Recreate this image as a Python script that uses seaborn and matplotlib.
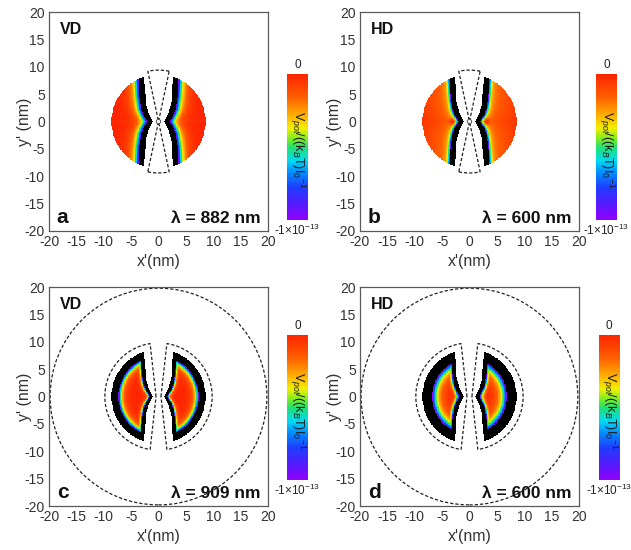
import numpy as np
import matplotlib
matplotlib.use("Agg")
import matplotlib.pyplot as plt
import seaborn as sns
from matplotlib.colors import LinearSegmentedColormap
from matplotlib.patches import Circle, Polygon, Wedge
from matplotlib.transforms import Affine2D

# ---- panel annotations -------------------------------------------------
panel_tags = ["a", "b", "c", "d"]
dimer_modes = ["VD", "HD", "VD", "HD"]
wavelengths_nm = [882, 600, 909, 600]
axis_ticks = [-20, -15, -10, -5, 0, 5, 10, 15, 20]
cbar_top_text = "0"
cbar_bottom_text = "-1×10$^{-13}$"
cbar_title = r"V$_{pot}$/((k$_B$T)I$_0$$^{-1}$"
v_min, v_max = -1e-13, 0.0

# ---- geometry (nm) -----------------------------------------------------
disk_radius = 8.6          # extent of the mapped potential
gap_tip = 0.95             # half width of the central gap at y = 0
gap_shoulder = 1.2         # extra half width reached away from the centre
gap_shoulder_len = 2.0
gap_slope = 0.06
bowtie_radius = 9.4        # dashed bow-tie sectors (top row)
bowtie_half_angle = 12.0
hub_radius = 0.4
piece_radius = 9.8         # dashed outlines of the two halves (bottom row)
piece_apex = 0.45
piece_half_angle = 9.0
shell_radius = 19.8        # outer dashed circle (bottom row)

# ---- potential-map parameters per panel --------------------------------
saturation_depth = [1.05, 1.0, 1.25, 1.75]   # distance at which V reaches v_min
decay_length = [0.9, 0.35, 0.6, 1.0]         # fall-off of |V| away from the walls
gap_weight = [1.0, 1.0, 2.0, 2.5]            # relative weight of the gap wall

jet_stops = [0.0, 0.1, 0.22, 0.33, 0.41, 0.5, 0.56, 0.63, 0.72, 0.84, 1.0]
jet_colors = ["#9400ff", "#5a18ff", "#1f3cff", "#0090ff", "#00dcf0", "#22e070",
              "#80ee20", "#f2ef00", "#ffae00", "#ff6000", "#ff2400"]

sns.set_style("white")
plt.rcParams["font.family"] = ["Liberation Sans", "DejaVu Sans"]
plt.rcParams["mathtext.fontset"] = "custom"
plt.rcParams["mathtext.rm"] = "Liberation Sans"
plt.rcParams["mathtext.it"] = "Liberation Sans:italic"

cmap = LinearSegmentedColormap.from_list("pot", list(zip(jet_stops, jet_colors)), N=512)
cmap.set_under("black")
cmap.set_bad("white")

N = 320
centers = -20 + (np.arange(N) + 0.5) * 40.0 / N
X, Y = np.meshgrid(centers, centers[::-1])
R = np.hypot(X, Y)
gap_edge = (gap_tip + gap_shoulder * np.tanh(np.abs(Y) / gap_shoulder_len)
            + gap_slope * np.abs(Y))
d_gap = np.abs(X) - gap_edge
d_arc = disk_radius - R
inside = (d_gap >= 0) & (d_arc >= 0)


def depth(i):
    w, s, k = saturation_depth[i], decay_length[i], gap_weight[i]
    ax_ = np.abs(X)
    if i == 0:
        u = np.exp(-(d_gap - w) / s)
        u += 0.15 * np.exp(-np.abs(Y) / 0.25) * np.exp(-(ax_ - 1.0) / 3.5)
    elif i == 1:
        t = d_gap - w
        u = 0.75 * np.exp(-t / s) + 0.25 * np.exp(-t / 4.0)
        u -= 0.2 * np.exp(-((ax_ - 3.0) ** 2 + Y ** 2) / 0.35)
    elif i == 2:
        dist = np.minimum(d_arc, k * d_gap)
        u = np.exp(-(dist - w) / s)
    else:
        dist = np.minimum(d_arc, k * d_gap)
        u = np.exp(-(dist - w) / s)
        u += 0.6 * np.exp(-(((ax_ - 1.3) / 1.0) ** 2 + (Y / 1.2) ** 2))
    return u


ax_boxes = [[0.0777, 0.580, 0.347, 0.398], [0.5705, 0.580, 0.347, 0.398],
            [0.0777, 0.080, 0.347, 0.398], [0.5705, 0.080, 0.347, 0.398]]
cax_boxes = [[0.455, 0.600, 0.033, 0.265], [0.9445, 0.600, 0.033, 0.265],
             [0.455, 0.127, 0.033, 0.264], [0.949, 0.127, 0.033, 0.264]]

fig = plt.figure(figsize=(6.31, 5.5), dpi=100)
dash = (0, (2.6, 1.6))

for i in range(4):
    ax = fig.add_axes(ax_boxes[i])
    cax = fig.add_axes(cax_boxes[i])
    field = -depth(i) * 1e-13
    field = np.where(inside, field, np.nan)
    sns.heatmap(field, ax=ax, mask=~inside, cmap=cmap, vmin=v_min, vmax=v_max,
                cbar=True, cbar_ax=cax, xticklabels=False, yticklabels=False,
                rasterized=True)

    ax.set_xlim(0, N)
    ax.set_ylim(N, 0)
    ax.set_xticks([(t + 20) * N / 40 for t in axis_ticks])
    ax.set_xticklabels([str(t) for t in axis_ticks])
    ax.set_yticks([(20 - t) * N / 40 for t in axis_ticks])
    ax.set_yticklabels([str(t) for t in axis_ticks], rotation=0)
    ax.tick_params(length=0, labelsize=10, colors="#333333", pad=3)
    for sp in ax.spines.values():
        sp.set_visible(True)
        sp.set_color("#5a5a5a")
        sp.set_linewidth(0.9)
    ax.set_xlabel("x'(nm)", fontsize=11.5, color="#333333")
    ax.set_ylabel("y' (nm)", fontsize=11.5, color="#333333")
    ax.xaxis.set_label_coords(0.5, -0.105)
    ax.yaxis.set_label_coords(-0.08, 0.5)

    # nm -> cell transform for the outlines
    tr = Affine2D().scale(N / 40, -N / 40).translate(N / 2, N / 2) + ax.transData
    line_kw = dict(fill=False, ec="#222222", lw=0.9, ls=dash, transform=tr)
    if i < 2:
        ax.add_patch(Wedge((0, 0), bowtie_radius, 90 - bowtie_half_angle,
                           90 + bowtie_half_angle, **line_kw))
        ax.add_patch(Wedge((0, 0), bowtie_radius, 270 - bowtie_half_angle,
                           270 + bowtie_half_angle, **line_kw))
        ax.add_patch(Circle((0, 0), hub_radius, fc="white", ec="#555555",
                            lw=0.7, transform=tr))
    else:
        ang = np.radians(np.linspace(90 + piece_half_angle, 270 - piece_half_angle, 120))
        left = np.vstack([[-piece_apex, 0.0],
                          np.column_stack([piece_radius * np.cos(ang),
                                           piece_radius * np.sin(ang)])])
        right = left * np.array([-1, 1])
        ax.add_patch(Polygon(left, closed=True, **line_kw))
        ax.add_patch(Polygon(right, closed=True, **line_kw))
        ax.add_patch(Circle((0, 0), shell_radius, **line_kw))

    ax.text(0.05, 0.955, dimer_modes[i], transform=ax.transAxes, ha="left",
            va="top", fontsize=11.5, fontweight="bold", color="#111111")
    ax.text(0.035, 0.035, panel_tags[i], transform=ax.transAxes, ha="left",
            va="baseline", fontsize=15, fontweight="bold", color="#111111")
    ax.text(0.967, 0.035, f"λ = {wavelengths_nm[i]} nm", transform=ax.transAxes,
            ha="right", va="baseline", fontsize=12.5, fontweight="bold",
            color="#111111")

    cb = ax.collections[0].colorbar
    cb.outline.set_visible(False)
    cax.set_yticks([])
    cax.tick_params(length=0)
    cax.text(0.5, 1.02, cbar_top_text, transform=cax.transAxes, ha="center",
             va="bottom", fontsize=8.5, color="#222222")
    cax.text(0.5, -0.02, cbar_bottom_text, transform=cax.transAxes, ha="center",
             va="top", fontsize=8.5, color="#222222")
    cax.text(0.5, 0.48, cbar_title, transform=cax.transAxes, ha="center",
             va="center", rotation=270, fontsize=9, color="#1a1a1a")

fig.savefig("out.png", dpi=100)
